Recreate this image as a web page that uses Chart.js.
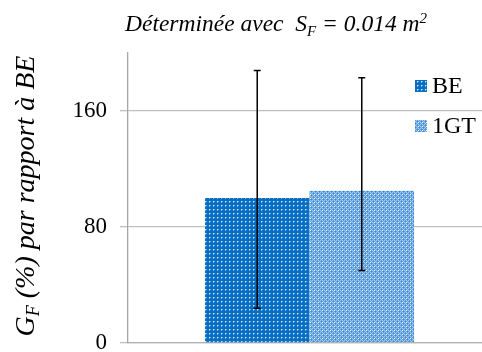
<!DOCTYPE html>
<html>
<head>
<meta charset="utf-8">
<script src="https://cdn.jsdelivr.net/npm/chart.js@4"></script>
<style>
  html, body { margin: 0; padding: 0; background: #fff; overflow: hidden; }
  #wrap { width: 491px; height: 352px; }
</style>
</head>
<body>
<div id="wrap"><canvas id="gfChart" width="491" height="352"></canvas></div>
<script>
const categories = [""];
const seriesNames = ["BE", "1GT"];
const beValues = [100];
const gtValues = [105];
const beErrLow = [24];
const beErrHigh = [188];
const gtErrLow = [50];
const gtErrHigh = [183];
const yTicks = [0, 80, 160];

const serif = "'Liberation Serif', 'Times New Roman', serif";

function makePattern(base, px) {
  const c = document.createElement("canvas");
  c.width = 4;
  c.height = 4;
  const g = c.getContext("2d");
  g.fillStyle = base;
  g.fillRect(0, 0, 4, 4);
  px.forEach(p => {
    g.fillStyle = p[2];
    g.fillRect(p[0], p[1], 1, 1);
  });
  return document.getElementById("gfChart").getContext("2d").createPattern(c, "repeat");
}

const bePattern = makePattern("#0770c2", [
  [1, 1, "#d6e8f7"], [2, 1, "#6ea8dc"], [1, 2, "#6ea8dc"]
]);
const gtPattern = makePattern("#5c9fdb", [
  [0, 0, "#a6cbee"], [2, 0, "#a6cbee"], [1, 1, "#3f88cc"], [3, 1, "#a6cbee"],
  [0, 2, "#a6cbee"], [2, 2, "#ffffff"], [1, 3, "#a6cbee"], [3, 3, "#3f88cc"]
]);

// draw a line of text pieces (for subscripts / superscripts)
function drawPieces(ctx, pieces, cx, baseY) {
  let total = 0;
  pieces.forEach(p => {
    ctx.font = "italic " + p.size + "px " + serif;
    p.w = ctx.measureText(p.t).width;
    total += p.w;
  });
  let x = cx - total / 2;
  ctx.textAlign = "left";
  ctx.textBaseline = "alphabetic";
  pieces.forEach(p => {
    ctx.font = "italic " + p.size + "px " + serif;
    ctx.fillText(p.t, x, baseY + (p.dy || 0));
    x += p.w;
  });
}

const extrasPlugin = {
  id: "extras",
  afterDatasetsDraw(chart) {
    const ctx = chart.ctx;
    const y = chart.scales.y;
    const lows = [beErrLow, gtErrLow];
    const highs = [beErrHigh, gtErrHigh];
    ctx.save();
    ctx.strokeStyle = "#000";
    ctx.lineWidth = 1.5;
    chart.data.datasets.forEach((ds, di) => {
      const meta = chart.getDatasetMeta(di);
      meta.data.forEach((bar, i) => {
        const yl = y.getPixelForValue(lows[di][i]);
        const yh = y.getPixelForValue(highs[di][i]);
        ctx.beginPath();
        ctx.moveTo(bar.x, yl);
        ctx.lineTo(bar.x, yh);
        ctx.moveTo(bar.x - 3.5, yl);
        ctx.lineTo(bar.x + 3.5, yl);
        ctx.moveTo(bar.x - 3.5, yh);
        ctx.lineTo(bar.x + 3.5, yh);
        ctx.stroke();
      });
    });
    ctx.restore();
  },
  afterDraw(chart) {
    const ctx = chart.ctx;
    ctx.save();
    ctx.fillStyle = "#000";
    // title
    drawPieces(ctx, [
      { t: "Déterminée avec  S", size: 23.5 },
      { t: "F", size: 15, dy: 5 },
      { t: " = 0.014 m", size: 23.5 },
      { t: "2", size: 15, dy: -8 }
    ], 276, 31);
    // y axis title
    ctx.save();
    ctx.translate(34, 196);
    ctx.rotate(-Math.PI / 2);
    drawPieces(ctx, [
      { t: "G", size: 28 },
      { t: "F", size: 18, dy: 5 },
      { t: " (%) par rapport à BE", size: 28 }
    ], 0, 0);
    ctx.restore();
    // legend
    ctx.textAlign = "left";
    ctx.textBaseline = "alphabetic";
    ctx.font = "24px " + serif;
    chart.data.datasets.forEach((ds, i) => {
      const base = 93 + i * 40;
      ctx.fillStyle = ds.backgroundColor;
      ctx.fillRect(415, base - 13, 12, 12);
      ctx.fillStyle = "#000";
      ctx.fillText(ds.label, 432, base);
    });
    ctx.restore();
  }
};

new Chart(document.getElementById("gfChart"), {
  type: "bar",
  data: {
    labels: categories,
    datasets: [
      { label: seriesNames[0], data: beValues, backgroundColor: bePattern },
      { label: seriesNames[1], data: gtValues, backgroundColor: gtPattern }
    ]
  },
  options: {
    responsive: false,
    animation: false,
    layout: { padding: { left: 0, right: 0, top: 53, bottom: 9 } },
    datasets: { bar: { barPercentage: 1, categoryPercentage: 0.576 } },
    plugins: { legend: { display: false }, title: { display: false }, tooltip: { enabled: false } },
    scales: {
      x: {
        grid: { display: false },
        ticks: { display: false },
        border: { display: true, color: "#b3b3b3", width: 1.3 },
        afterFit(scale) { scale.height = 0; }
      },
      y: {
        min: 0,
        max: 200,
        afterBuildTicks(scale) { scale.ticks = yTicks.map(v => ({ value: v })); },
        afterFit(scale) {
          scale.width = 128;
          scale.paddingTop = 0;
          scale.paddingBottom = 0;
        },
        grid: { color: "#bfbfbf", lineWidth: 1.3, tickLength: 8 },
        border: { color: "#a6a6a6", width: 1.3 },
        ticks: { color: "#000", padding: 13, font: { family: serif, size: 23 } }
      }
    }
  },
  plugins: [extrasPlugin]
});
</script>
</body>
</html>
